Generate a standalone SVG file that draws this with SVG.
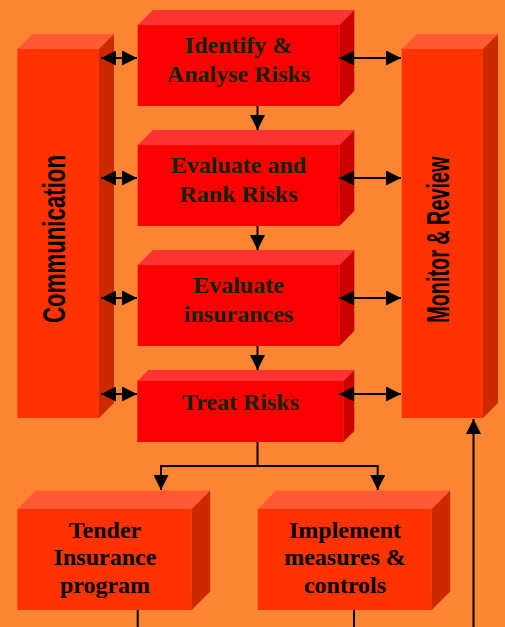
<svg xmlns="http://www.w3.org/2000/svg" width="505" height="627" viewBox="0 0 505 627">
<style>
.bg{fill:#FC8533}
.of{fill:#FF3300}.ot{fill:#FF5A33}.os{fill:#CC2900}
.rf{fill:#FA0000}.rt{fill:#FF3333}.rs{fill:#CC0000}
.t{font-family:"Liberation Serif","Times New Roman",serif;font-weight:bold;font-size:24px;text-anchor:middle}
.tr{fill:#0E2409}.tb{fill:#000}
.v{font-family:"Liberation Sans",Arial,sans-serif;font-weight:bold;font-size:32px;text-anchor:middle;fill:#000}
.c{stroke:#000;stroke-width:2;fill:none}
</style>
<defs>
<marker id="ah" markerUnits="userSpaceOnUse" markerWidth="15" markerHeight="15" refX="15" refY="7.5" orient="auto-start-reverse">
<path d="M0,0 L15,7.5 L0,15 z" fill="#000"/>
</marker>
</defs>
<rect class="bg" x="0" y="0" width="505" height="627"/>

<g id="communication">
<rect class="of" x="17.3" y="49" width="81.7" height="369"/>
<polygon class="ot" points="17.3,49 32.3,34 114,34 99,49"/>
<polygon class="os" points="99,49 114,34 114,403 99,418"/>
<text class="v" transform="translate(65,239) rotate(-90)" textLength="168" lengthAdjust="spacingAndGlyphs">Communication</text>
</g>

<g id="monitor">
<rect class="of" x="401.7" y="49" width="81.3" height="369"/>
<polygon class="ot" points="401.7,49 416.7,34 498,34 483,49"/>
<polygon class="os" points="483,49 498,34 498,403 483,418"/>
<text class="v" transform="translate(449,239.7) rotate(-90)" textLength="166" lengthAdjust="spacingAndGlyphs">Monitor &amp; Review</text>
</g>

<g id="identify">
<rect class="rf" x="137.7" y="25" width="201.6" height="81"/>
<polygon class="rt" points="137.7,25 152.7,10 354.3,10 339.3,25"/>
<polygon class="rs" points="339.3,25 354.3,10 354.3,91 339.3,106"/>
<text class="t tr" x="238.5" y="53.3">Identify &amp;</text>
<text class="t tr" x="238.5" y="81.7">Analyse Risks</text>
</g>

<g id="evaluate-rank">
<rect class="rf" x="137.7" y="145" width="201.6" height="81"/>
<polygon class="rt" points="137.7,145 152.7,130 354.3,130 339.3,145"/>
<polygon class="rs" points="339.3,145 354.3,130 354.3,211 339.3,226"/>
<text class="t tr" x="238.5" y="173.3">Evaluate and</text>
<text class="t tr" x="238.5" y="201.7">Rank Risks</text>
</g>

<g id="evaluate-insurances">
<rect class="rf" x="137.7" y="265" width="201.6" height="81"/>
<polygon class="rt" points="137.7,265 152.7,250 354.3,250 339.3,265"/>
<polygon class="rs" points="339.3,265 354.3,250 354.3,331 339.3,346"/>
<text class="t tr" x="238.5" y="293.3">Evaluate</text>
<text class="t tr" x="238.5" y="321.7">insurances</text>
</g>

<g id="treat">
<rect class="rf" x="137.3" y="381" width="206" height="61"/>
<polygon class="rt" points="137.3,381 148.3,370 354.3,370 343.3,381"/>
<polygon class="rs" points="343.3,381 354.3,370 354.3,431 343.3,442"/>
<text class="t tr" x="240.5" y="410">Treat Risks</text>
</g>

<g id="tender">
<rect class="of" x="17.3" y="509" width="174.4" height="101"/>
<polygon class="ot" points="17.3,509 35.8,490.5 210.2,490.5 191.7,509"/>
<polygon class="os" points="191.7,509 210.2,490.5 210.2,591.5 191.7,610"/>
<text class="t tb" x="105" y="537.7">Tender</text>
<text class="t tb" x="105" y="565">Insurance</text>
<text class="t tb" x="105" y="593">program</text>
</g>

<g id="implement">
<rect class="of" x="257.7" y="509" width="174" height="101"/>
<polygon class="ot" points="257.7,509 276.2,490.5 450.2,490.5 431.7,509"/>
<polygon class="os" points="431.7,509 450.2,490.5 450.2,591.5 431.7,610"/>
<text class="t tb" x="345" y="538.3">Implement</text>
<text class="t tb" x="345" y="565">measures &amp;</text>
<text class="t tb" x="345" y="593.3">controls</text>
</g>

<g id="connectors">
<path class="c" d="M101,58 H137" marker-start="url(#ah)" marker-end="url(#ah)"/>
<path class="c" d="M101,178 H137" marker-start="url(#ah)" marker-end="url(#ah)"/>
<path class="c" d="M101,298 H137" marker-start="url(#ah)" marker-end="url(#ah)"/>
<path class="c" d="M101,394 H137" marker-start="url(#ah)" marker-end="url(#ah)"/>
<path class="c" d="M339,58 H401" marker-start="url(#ah)" marker-end="url(#ah)"/>
<path class="c" d="M339,178 H401" marker-start="url(#ah)" marker-end="url(#ah)"/>
<path class="c" d="M339,298 H401" marker-start="url(#ah)" marker-end="url(#ah)"/>
<path class="c" d="M339,394 H401" marker-start="url(#ah)" marker-end="url(#ah)"/>
<path class="c" d="M257.5,106 V130" marker-end="url(#ah)"/>
<path class="c" d="M257.5,226 V250" marker-end="url(#ah)"/>
<path class="c" d="M257.5,346 V370" marker-end="url(#ah)"/>
<path class="c" d="M257.5,442 V466"/>
<path class="c" d="M258.5,466 H161 V490" marker-end="url(#ah)"/>
<path class="c" d="M256.5,466 H377.7 V490" marker-end="url(#ah)"/>
<path class="c" d="M137.7,610 V627"/>
<path class="c" d="M354,610 V627"/>
<path class="c" d="M473.5,627 V419" marker-end="url(#ah)"/>
</g>
</svg>
